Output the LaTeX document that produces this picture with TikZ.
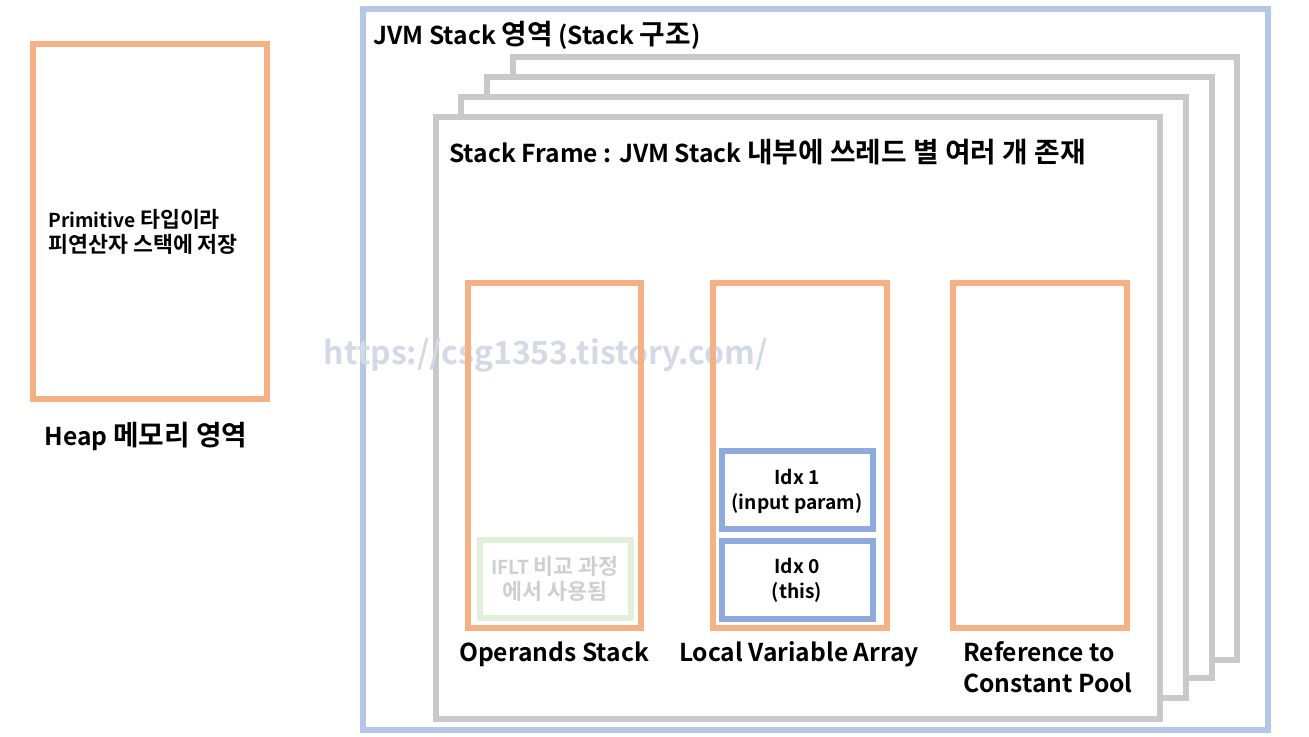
\documentclass[tikz,border=0pt]{standalone}
\usepackage{fontspec}
\setmainfont{Noto Sans CJK KR}[BoldFont={Noto Sans CJK KR Bold}]
\newfontfamily\kr{Noto Sans CJK KR}[Scale=1.13, BoldFont={Noto Sans CJK KR Bold}]
\definecolor{boxorange}{HTML}{F4B183}
\definecolor{jvmblue}{HTML}{B4C7E7}
\definecolor{framegray}{HTML}{C9C9C9}
\definecolor{idxblue}{HTML}{8FAADC}
\definecolor{iflgreen}{HTML}{E2EFDA}
\definecolor{iflgray}{HTML}{CFCFCF}
\definecolor{markblue}{HTML}{D3DAE6}
\begin{document}
\begin{tikzpicture}[x=0.5pt, y=-0.5pt, every node/.style={font=\bfseries\fontsize{12.3}{15.5}\selectfont, inner sep=0pt},
  orangebox/.style={draw=boxorange, line width=3pt},
  stackframe/.style={draw=framegray, fill=white, line width=2.6pt},
  idxbox/.style={draw=idxblue, line width=3pt},
  smalltext/.style={font=\bfseries\fontsize{9.6}{12.5}\selectfont, align=center}]
  \useasboundingbox (0,0) rectangle (1309,737);
  % heap
  \draw[orangebox] (33,44) rectangle (267,399);
  \node[smalltext, align=left, anchor=west] (prim) at (48,232) {Primitive {\kr 타입이라}\\{\kr 피연산자 스택에 저장}};
  \node (heap) at (146,436) {Heap {\kr 메모리 영역}};
  % jvm stack
  \draw[draw=jvmblue, line width=3pt] (363,9) rectangle (1268,730);
  \node[anchor=west] (jvm) at (373,35) {JVM Stack {\kr 영역} (Stack {\kr 구조})};
  \draw[stackframe] (513,57) rectangle (1237,660);
  \draw[stackframe] (487,77) rectangle (1212,678);
  \draw[stackframe] (461,97) rectangle (1186,698);
  \draw[stackframe] (436,117) rectangle (1160,719);
  \node[anchor=west] (frame) at (449,152) {Stack Frame : JVM Stack {\kr 내부에 쓰레드 별 여러 개 존재}};
  % watermark
  \node[text=markblue, font=\bfseries\fontsize{16}{18}\selectfont] (mark) at (546,355) {https://csg1353.tistory.com/};
  % operands
  \draw[orangebox] (468,283) rectangle (641,628);
  \draw[draw=iflgreen, line width=3pt] (480,540) rectangle (631,618);
  \node[smalltext, text=iflgray] (iflt) at (555,579) {IFLT {\kr 비교 과정}\\{\kr 에서 사용됨}};
  \node (ops) at (554,654) {Operands Stack};
  % locals
  \draw[orangebox] (713,283) rectangle (887,628);
  \draw[idxbox] (722,451) rectangle (873,529);
  \draw[idxbox] (722,541) rectangle (873,619);
  \node[smalltext] (idx1) at (797,491) {Idx 1\\(input param)};
  \node[smalltext] (idx0) at (797,580) {Idx 0\\(this)};
  \node (locals) at (799,654) {Local Variable Array};
  % constant pool
  \draw[orangebox] (953,283) rectangle (1127,628);
  \node[align=left, anchor=north west] (pool) at (963,641) {Reference to\\Constant Pool};
\end{tikzpicture}
\end{document}
